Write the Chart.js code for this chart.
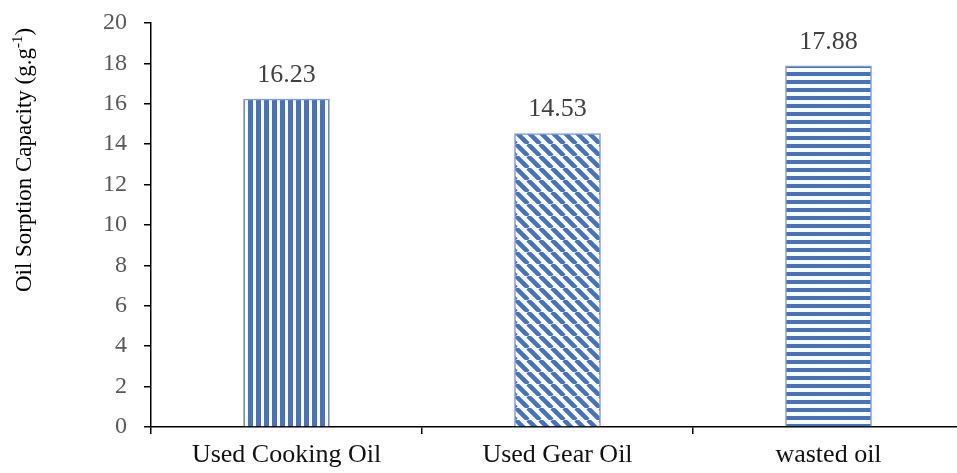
<!DOCTYPE html>
<html>
<head>
<meta charset="utf-8">
<script src="https://cdn.jsdelivr.net/npm/chart.js@4.4.1/dist/chart.umd.min.js"></script>
<style>
  html, body { margin: 0; padding: 0; overflow: hidden; background: #fff; }
  #wrap { width: 965px; height: 473px; position: relative; }
</style>
</head>
<body>
<div id="wrap"><canvas id="c"></canvas></div>
<script>
const categories = ["Used Cooking Oil", "Used Gear Oil", "wasted oil"];
const sorptionValues = [16.23, 14.53, 17.88];
const valueLabels = ["16.23", "14.53", "17.88"];
const yTickMin = 0;
const yTickMax = 20;
const yTickStep = 2;

const BLUE = '#4472C4';

function makePattern(kind) {
  const s = kind === 'diag' ? 12 : 8;
  const c = document.createElement('canvas');
  c.width = s; c.height = s;
  const g = c.getContext('2d');
  g.fillStyle = '#ffffff';
  g.fillRect(0, 0, s, s);
  g.fillStyle = BLUE;
  g.strokeStyle = BLUE;
  if (kind === 'vert') {
    g.fillRect(0, 0, 5, s);
  } else if (kind === 'horiz') {
    g.fillRect(0, 0, s, 4);
  } else {
    g.lineWidth = 4.5;
    g.beginPath();
    for (const k of [-s, 0, s]) {
      g.moveTo(k, 0);
      g.lineTo(k + s, s);
    }
    g.stroke();
  }
  return document.createElement('canvas').getContext('2d').createPattern(c, 'repeat');
}

const patterns = [makePattern('vert'), makePattern('diag'), makePattern('horiz')];

const valueLabelPlugin = {
  id: 'valueLabels',
  afterDatasetsDraw(chart) {
    const ctx = chart.ctx;
    const meta = chart.getDatasetMeta(0);
    ctx.save();
    ctx.font = '26px "Liberation Serif", "Times New Roman", serif';
    ctx.fillStyle = '#404040';
    ctx.textAlign = 'center';
    ctx.textBaseline = 'alphabetic';
    meta.data.forEach((bar, i) => {
      ctx.fillText(valueLabels[i], bar.x, bar.y - 17);
    });
    ctx.restore();
  }
};

const axisTitlePlugin = {
  id: 'axisTitle',
  afterDraw(chart) {
    const ctx = chart.ctx;
    ctx.save();
    ctx.translate(31, 160);
    ctx.rotate(-Math.PI / 2);
    ctx.fillStyle = '#000000';
    ctx.textBaseline = 'alphabetic';
    const main = 'Oil Sorption Capacity (g.g';
    const sup = '-1';
    const end = ')';
    const fMain = '23px "Liberation Serif", "Times New Roman", serif';
    const fSup = '15px "Liberation Serif", "Times New Roman", serif';
    ctx.font = fMain;
    const wMain = ctx.measureText(main).width;
    const wEnd = ctx.measureText(end).width;
    ctx.font = fSup;
    const wSup = ctx.measureText(sup).width;
    const total = wMain + wSup + wEnd;
    let x = -total / 2;
    ctx.font = fMain;
    ctx.textAlign = 'left';
    ctx.fillText(main, x, 0);
    x += wMain;
    ctx.font = fSup;
    ctx.fillText(sup, x, -9);
    x += wSup;
    ctx.font = fMain;
    ctx.fillText(end, x, 0);
    ctx.restore();
  }
};

new Chart(document.getElementById('c'), {
  type: 'bar',
  data: {
    labels: categories,
    datasets: [{
      data: sorptionValues,
      backgroundColor: patterns,
      borderColor: '#7C9DDA',
      borderWidth: 1.5,
      barThickness: 86
    }]
  },
  options: {
    responsive: true,
    maintainAspectRatio: false,
    devicePixelRatio: 1,
    animation: false,
    layout: { padding: { top: 23, right: 1, left: 0, bottom: 0 } },
    plugins: {
      legend: { display: false },
      tooltip: { enabled: false }
    },
    scales: {
      x: {
        afterFit(scale) { scale.height = 46; scale.paddingLeft = 0; scale.paddingRight = 0; },
        grid: {
          display: true,
          drawOnChartArea: false,
          drawTicks: true,
          tickLength: 7,
          color: '#000000',
          lineWidth: 1.5,
          offset: true
        },
        border: { display: true, color: '#000000', width: 1.5 },
        ticks: {
          color: '#111111',
          padding: 6,
          font: { family: '"Liberation Serif", "Times New Roman", serif', size: 26 },
          maxRotation: 0,
          autoSkip: false
        }
      },
      y: {
        min: yTickMin,
        max: yTickMax,
        afterFit(scale) { scale.width = 151; scale.paddingTop = 0; scale.paddingBottom = 0; },
        grid: {
          display: true,
          drawOnChartArea: false,
          drawTicks: true,
          tickLength: 7,
          color: '#000000',
          lineWidth: 1.5
        },
        border: { display: true, color: '#000000', width: 1.5 },
        ticks: {
          stepSize: yTickStep,
          color: '#595959',
          padding: 17,
          font: { family: '"Liberation Serif", "Times New Roman", serif', size: 24 }
        }
      }
    }
  },
  plugins: [valueLabelPlugin, axisTitlePlugin]
});
</script>
</body>
</html>
